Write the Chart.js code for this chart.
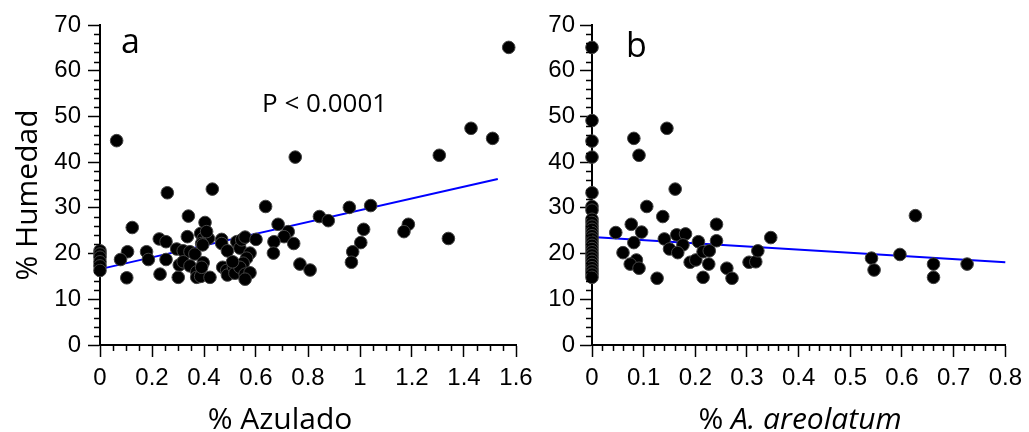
<!DOCTYPE html>
<html>
<head>
<meta charset="utf-8">
<script src="https://cdn.jsdelivr.net/npm/chart.js@4/dist/chart.umd.min.js"></script>
<style>
  body { margin: 0; background: #fff; width: 1029px; height: 432px; overflow: hidden; position: relative; }
  canvas { position: absolute; top: 0; }
  #chartA { left: 0; }
  #chartB { left: 530px; }
</style>
</head>
<body>
<canvas id="chartA" width="545" height="432"></canvas>
<canvas id="chartB" width="499" height="432"></canvas>
<script>
// panel a: % Azulado vs % Humedad
const azuladoX = [0.064, 1.305, 1.427, 1.51, 1.572, 0.751,
  0.259, 0.432, 0.637, 0.959, 1.041, 0.34, 0.844, 0.878, 0.124, 0.404, 0.685, 1.186, 1.169, 1.014,
  0.724, 0.708, 0.745, 0.669, 0.667, 1.003, 0.972, 0.967, 1.34, 0.769, 0.808, 0.228, 0.254, 0.336,
  0.179, 0.186, 0.106, 0.079, 0.103, 0.254, 0.231, 0.301, 0.295, 0.32, 0.346, 0.365, 0.305, 0.32,
  0.346, 0.372, 0.372, 0.387, 0.423, 0.397, 0.391, 0.387, 0.397, 0.417, 0.391, 0.41, 0.395, 0.468,
  0.468, 0.49, 0.472, 0.487, 0.49, 0.513, 0.519, 0.526, 0.538, 0.545, 0.558, 0.577, 0.564, 0.551,
  0.538, 0.558, 0.577, 0.558, 0.6, 0.51, 0, 0, 0, 0, 0, 0];
const azuladoY = [44.7, 41.5, 47.4, 45.2, 65.1, 41.1,
  33.3, 34.1, 30.3, 30.1, 30.5, 28.2, 28.1, 27.2, 25.7, 26.8, 26.4, 26.4, 24.8, 25.3,
  24.8, 23.7, 22.2, 22.6, 20.1, 22.4, 20.4, 18.1, 23.3, 17.7, 16.4, 23.2, 22.6, 23.7,
  20.4, 18.7, 20.4, 18.7, 14.7, 18.7, 15.5, 14.8, 21.0, 20.6, 20.4, 19.9, 17.5, 18.2,
  17.3, 16.0, 14.8, 15.0, 14.8, 18.0, 17.0, 24.4, 23.3, 23.3, 22.2, 24.8, 21.9, 23.1,
  22.2, 20.6, 17.0, 16.3, 15.3, 17.1, 15.7, 22.6, 21.2, 23.0, 23.6, 20.1, 19.0, 17.9,
  17.0, 15.5, 15.8, 14.4, 23.1, 18.2, 20.6, 19.9, 19.2, 18.2, 17.3, 16.3];
const fitAX = [0, 1.53];
const fitAY = [16.6, 36.3];

// panel b: % A. areolatum vs % Humedad
const areolatumX = [0, 0, 0, 0, 0, 0, 0, 0, 0, 0, 0, 0, 0, 0, 0, 0, 0, 0, 0, 0, 0, 0, 0, 0, 0, 0,
  0.081, 0.091, 0.145, 0.161, 0.106, 0.137, 0.076, 0.046, 0.096, 0.081, 0.06, 0.086, 0.074, 0.091,
  0.126, 0.14, 0.164, 0.181, 0.176, 0.15, 0.166, 0.19, 0.201, 0.206, 0.215, 0.227, 0.226, 0.215,
  0.241, 0.241, 0.261, 0.271, 0.304, 0.317, 0.321, 0.346, 0.541, 0.546, 0.596, 0.626, 0.661, 0.661, 0.726];
const areolatumY = [65.1, 49.1, 44.6, 41.1, 33.3, 30.3, 29.5, 27.5, 26.8, 26.0, 25.3, 24.6, 23.9,
  23.2, 22.5, 21.8, 21.1, 20.4, 19.7, 19.0, 18.3, 17.6, 16.9, 16.2, 15.5, 14.8,
  45.2, 41.5, 47.4, 34.1, 30.3, 28.1, 26.4, 24.6, 24.7, 22.4, 20.2, 18.6, 17.7, 16.8,
  14.6, 23.2, 24.1, 24.3, 21.9, 21.0, 20.2, 18.1, 18.6, 22.6, 20.4, 20.6, 17.7, 14.8,
  26.4, 22.8, 16.8, 14.6, 18.1, 18.2, 20.6, 23.5, 19.0, 16.4, 19.8, 28.3, 17.7, 14.8, 17.7];
const fitBX = [0, 0.8];
const fitBY = [23.6, 18.1];

const yTicks = { min: 0, max: 70, step: 2, major: 10 };

function pts(xs, ys) {
  return xs.map((x, i) => ({ x: x, y: ys[i] }));
}
function isMajor(v, major) {
  return Math.abs(v / major - Math.round(v / major)) < 1e-6;
}

// minor ticks are shorter than major ones
const minorTicks = {
  id: 'minorTicks',
  afterDraw(chart, args, opts) {
    const ctx = chart.ctx;
    const xs = chart.scales.x, ys = chart.scales.y;
    ctx.save();
    ctx.strokeStyle = '#000';
    ctx.lineWidth = 1.5;
    ctx.beginPath();
    xs.ticks.forEach(t => {
      if (!isMajor(t.value, opts.xMajor)) {
        const p = Math.round(xs.getPixelForValue(t.value)) + 0.5;
        ctx.moveTo(p, xs.top);
        ctx.lineTo(p, xs.top + 6);
      }
    });
    ys.ticks.forEach(t => {
      if (!isMajor(t.value, yTicks.major)) {
        const p = Math.round(ys.getPixelForValue(t.value)) + 0.5;
        ctx.moveTo(ys.right, p);
        ctx.lineTo(ys.right - 6, p);
      }
    });
    ctx.stroke();
    ctx.restore();
  }
};

// panel letter, p value and axis titles
const texts = {
  id: 'texts',
  afterDraw(chart, args, opts) {
    const ctx = chart.ctx;
    ctx.save();
    ctx.fillStyle = '#000';
    ctx.textBaseline = 'alphabetic';
    ctx.textAlign = 'left';
    ctx.font = '34px "Open Sans"';
    ctx.fillText(opts.letter, opts.letterX, opts.letterY);
    if (opts.p) {
      ctx.font = '26px "Open Sans"';
      ctx.fillText(opts.p, 262, 112);
    }
    // x title, may have an italic part
    const plain = '30px "Open Sans"', ital = 'italic 30px "Open Sans"';
    ctx.font = plain;
    const w1 = ctx.measureText(opts.xTitle[0]).width;
    ctx.font = ital;
    const w2 = opts.xTitle[1] ? ctx.measureText(opts.xTitle[1]).width : 0;
    const x0 = opts.xTitleX - (w1 + w2) / 2;
    ctx.font = plain;
    ctx.fillText(opts.xTitle[0], x0, 429);
    if (opts.xTitle[1]) {
      ctx.font = ital;
      ctx.fillText(opts.xTitle[1], x0 + w1, 429);
    }
    if (opts.yTitle) {
      ctx.translate(37, 195);
      ctx.rotate(-Math.PI / 2);
      ctx.textAlign = 'center';
      ctx.font = plain;
      ctx.fillText(opts.yTitle, 0, 0);
    }
    ctx.restore();
  }
};

function makeChart(id, o) {
  return new Chart(document.getElementById(id), {
    type: 'scatter',
    data: {
      datasets: [{
        data: pts(o.xs, o.ys),
        pointRadius: 6.3,
        pointBackgroundColor: '#000',
        pointBorderColor: '#444',
        pointBorderWidth: 1,
        clip: false
      }, {
        data: pts(o.fitX, o.fitY),
        showLine: true,
        borderColor: '#0000ff',
        borderWidth: 2,
        pointRadius: 0,
        clip: false
      }]
    },
    options: {
      responsive: false,
      animation: false,
      layout: { padding: { top: 25, right: o.padRight, bottom: 0, left: 0 } },
      plugins: {
        legend: { display: false },
        tooltip: { enabled: false },
        minorTicks: { xMajor: o.xMajor },
        texts: o.texts
      },
      scales: {
        x: {
          type: 'linear',
          min: 0, max: o.xMax,
          ticks: {
            stepSize: o.xStep,
            autoSkip: false,
            maxRotation: 0,
            padding: 7,
            color: '#000',
            font: { family: '"Liberation Sans", Arial', size: 24 },
            callback: v => isMajor(v, o.xMajor) ? String(Math.round(v * 10) / 10) : ''
          },
          grid: {
            drawOnChartArea: false,
            tickLength: 12,
            tickWidth: 1.5,
            tickColor: c => isMajor(c.tick.value, o.xMajor) ? '#000' : 'rgba(0,0,0,0)'
          },
          border: { color: '#000', width: 2 },
          afterFit: s => { s.height = 87; }
        },
        y: {
          min: yTicks.min, max: yTicks.max,
          ticks: {
            stepSize: yTicks.step,
            autoSkip: false,
            padding: o.yPad,
            color: '#000',
            font: { family: '"Liberation Sans", Arial', size: 24 },
            callback: v => isMajor(v, yTicks.major) ? String(v) : ''
          },
          grid: {
            drawOnChartArea: false,
            tickLength: 12,
            tickWidth: 1.5,
            tickColor: c => isMajor(c.tick.value, yTicks.major) ? '#000' : 'rgba(0,0,0,0)'
          },
          border: { color: '#000', width: 2 },
          afterFit: s => { s.width = o.yWidth; }
        }
      }
    },
    plugins: [minorTicks, texts]
  });
}

makeChart('chartA', {
  xs: azuladoX, ys: azuladoY, fitX: fitAX, fitY: fitAY,
  xMax: 1.6, xStep: 0.05, xMajor: 0.2, yWidth: 100, yPad: 7, padRight: 29,
  texts: { letter: 'a', letterX: 121, letterY: 53, p: 'P < 0.0001',
           xTitle: ['% Azulado'], xTitleX: 280, yTitle: '% Humedad' }
});

makeChart('chartB', {
  xs: areolatumX, ys: areolatumY, fitX: fitBX, fitY: fitBY,
  xMax: 0.8, xStep: 0.02, xMajor: 0.1, yWidth: 62, yPad: 5, padRight: 21,
  texts: { letter: 'b', letterX: 96, letterY: 57,
           xTitle: ['% ', 'A. areolatum'], xTitleX: 270 }
});
</script>
</body>
</html>
